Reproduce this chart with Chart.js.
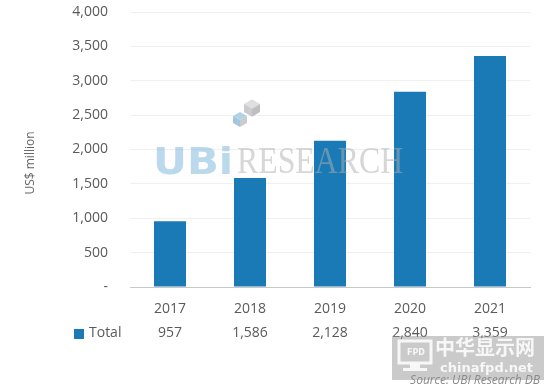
<!DOCTYPE html>
<html>
<head>
<meta charset="utf-8">
<script src="https://cdn.jsdelivr.net/npm/chart.js@4"></script>
<style>
  html, body { margin: 0; padding: 0; background: #fff; }
  #wrap { width: 546px; height: 390px; }
</style>
</head>
<body>
<div id="wrap"><canvas id="ubiChart" width="546" height="390"></canvas></div>
<script>
const years = ['2017', '2018', '2019', '2020', '2021'];
const totals = [957, 1586, 2128, 2840, 3359];
const totalLabels = ['957', '1,586', '2,128', '2,840', '3,359'];
const yTicks = [0, 500, 1000, 1500, 2000, 2500, 3000, 3500, 4000];
const seriesName = 'Total';
const yTitle = 'US$ million';
const sourceText = 'Source: UBI Research DB';

const barColor = '#1a7ab5';
const textColor = '#5a5a5a';
const font = '"Open Sans", "Noto Sans", sans-serif';

function cube(c, x, y, s, top, left, right) {
    // small isometric cube for the logo watermark
    const h = s * 0.58;
    c.fillStyle = top;
    c.beginPath();
    c.moveTo(x, y - h); c.lineTo(x + s, y); c.lineTo(x, y + h); c.lineTo(x - s, y);
    c.closePath(); c.fill();
    c.fillStyle = left;
    c.beginPath();
    c.moveTo(x - s, y); c.lineTo(x, y + h); c.lineTo(x, y + h + s); c.lineTo(x - s, y + s);
    c.closePath(); c.fill();
    c.fillStyle = right;
    c.beginPath();
    c.moveTo(x + s, y); c.lineTo(x, y + h); c.lineTo(x, y + h + s); c.lineTo(x + s, y + s);
    c.closePath(); c.fill();
}

const extras = {
    id: 'extras',
    afterDatasetsDraw(chart) {
        const c = chart.ctx;
        c.save();
        // UBI watermark
        cube(c, 252, 104, 8, 'rgba(215,215,215,0.8)', 'rgba(190,190,195,0.8)', 'rgba(175,175,180,0.8)');
        cube(c, 240, 116, 7, 'rgba(160,200,225,0.8)', 'rgba(140,185,215,0.8)', 'rgba(190,190,195,0.8)');
        c.font = 'bold 44px "DejaVu Sans", sans-serif';
        c.fillStyle = 'rgba(130, 185, 222, 0.55)';
        c.textBaseline = 'alphabetic';
        c.textAlign = 'left';
        c.save();
        c.translate(153, 174);
        c.scale(0.95, 0.85);
        c.fillText('UBi', 0, 0);
        c.restore();
        c.save();
        c.translate(237, 173);
        c.scale(0.86, 1);
        c.font = '37px "Liberation Serif", serif';
        c.fillStyle = 'rgba(175, 175, 175, 0.5)';
        c.fillText('RESEARCH', 0, 0);
        c.restore();
        c.restore();
    },
    afterDraw(chart) {
        const c = chart.ctx;
        const x = chart.scales.x;
        c.save();
        // y title
        c.translate(31, 163);
        c.rotate(-Math.PI / 2);
        c.font = '12px ' + font;
        c.fillStyle = '#666';
        c.textAlign = 'center';
        c.textBaseline = 'middle';
        c.fillText(yTitle, 0, 0);
        c.restore();

        c.save();
        // data table row
        c.fillStyle = barColor;
        c.fillRect(74, 329, 10, 10);
        c.font = '14px ' + font;
        c.fillStyle = textColor;
        c.textBaseline = 'middle';
        c.textAlign = 'left';
        c.fillText(seriesName, 89, 333);
        c.textAlign = 'center';
        totalLabels.forEach((t, i) => {
            c.fillText(t, x.getPixelForValue(i), 333);
        });

        // site watermark box
        c.fillStyle = 'rgba(150, 150, 150, 0.5)';
        c.fillRect(392, 336, 152, 44);
        c.fillStyle = 'rgba(255, 255, 255, 0.85)';
        c.font = 'bold 20px "Noto Sans CJK SC", sans-serif';
        c.textAlign = 'left';
        c.fillText('中华显示网', 435, 347);
        c.font = 'bold 13px "DejaVu Sans", sans-serif';
        c.fillText('chinafpd.net', 440, 369);
        c.strokeStyle = 'rgba(255, 255, 255, 0.85)';
        c.lineWidth = 3;
        c.strokeRect(399, 341, 32, 22);
        c.fillRect(410, 364, 10, 4);
        c.fillRect(403, 368, 24, 3);
        c.font = 'bold 8px "DejaVu Sans", sans-serif';
        c.fillText('FPD', 407, 353);

        // source
        c.font = 'italic 12px ' + font;
        c.fillStyle = '#8a8a8a';
        c.textAlign = 'right';
        c.fillText(sourceText, 540, 381);
        c.restore();
    }
};

new Chart(document.getElementById('ubiChart').getContext('2d'), {
    type: 'bar',
    data: {
        labels: years,
        datasets: [{
            label: seriesName,
            data: totals,
            backgroundColor: barColor,
            barPercentage: 0.4,
            categoryPercentage: 1.0
        }]
    },
    options: {
        responsive: false,
        animation: false,
        layout: { padding: { top: 12, right: 16, left: 0, bottom: 0 } },
        plugins: { legend: { display: false }, tooltip: { enabled: false } },
        scales: {
            y: {
                min: 0,
                max: 4000,
                afterFit: s => { s.width = 130; s.paddingTop = 0; s.paddingBottom = 0; },
                afterBuildTicks: s => { s.ticks = yTicks.map(v => ({ value: v })); },
                border: { display: false },
                grid: { color: '#f0f0f0', drawTicks: false },
                ticks: {
                    padding: 22,
                    color: textColor,
                    font: { family: font, size: 14 },
                    callback: v => v === 0 ? '-' : v.toLocaleString('en-US')
                }
            },
            x: {
                afterFit: s => { s.height = 103; s.paddingLeft = 0; s.paddingRight = 0; },
                border: { display: true, color: '#c8c8c8' },
                grid: { display: false },
                ticks: {
                    padding: 6,
                    color: textColor,
                    font: { family: font, size: 14 }
                }
            }
        }
    },
    plugins: [extras]
});
</script>
</body>
</html>
